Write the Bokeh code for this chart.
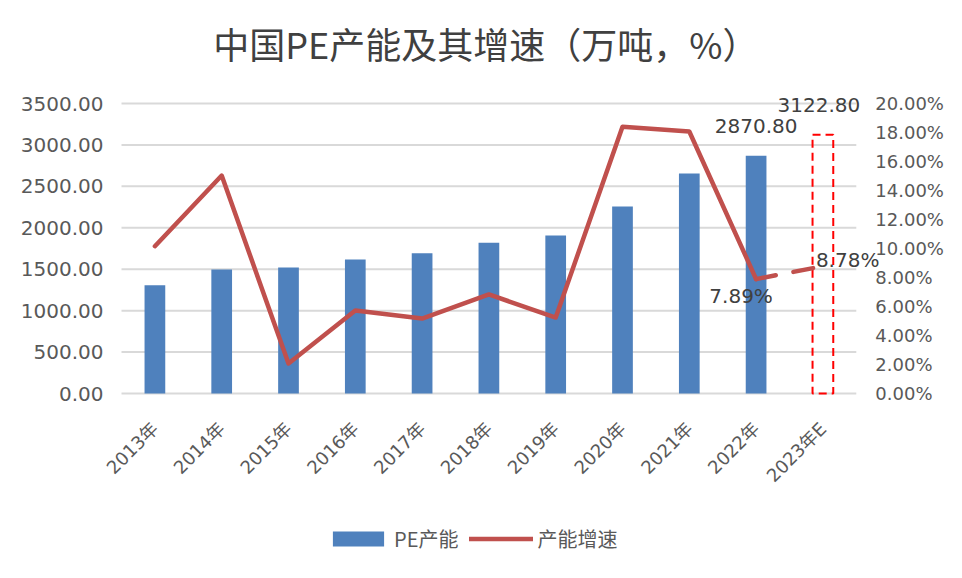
from bokeh.plotting import figure
from bokeh.models import (Range1d, LinearAxis, FixedTicker, PrintfTickFormatter,
                          Label, Legend, LegendItem)
from bokeh.embed import file_html
from bokeh.resources import INLINE
import math

years = ["2013年", "2014年", "2015年", "2016年", "2017年", "2018年", "2019年",
         "2020年", "2021年", "2022年", "2023年E"]
capacity = [1305, 1497, 1521, 1617, 1692, 1820, 1907, 2257, 2655, 2870.8, 3122.8]
growth = [10.16, 15.03, 2.07, 5.72, 5.17, 6.83, 5.24, 18.40, 18.07, 7.89, 8.78]
left_ticks = [0, 500, 1000, 1500, 2000, 2500, 3000, 3500]
right_ticks = [0, 2, 4, 6, 8, 10, 12, 14, 16, 18, 20]

# ---- layout (pixels) ----
W, H = 946, 562
PX_LEFT, PX_TOP, PX_BOTTOM = 121, 103, 393     # plot-area edges in the figure
PX_CAT = 66.8                                   # width of one category
CAP_MAX, PCT_MAX = 3500, 20
ppu = (PX_BOTTOM - PX_TOP) / CAP_MAX
ppp = (PX_BOTTOM - PX_TOP) / PCT_MAX

n = len(years)
xc = [i + 0.5 for i in range(n)]               # category centres (synthetic coords)

TXT = "#595959"
NUM_FONT = "DejaVu Sans, Noto Sans CJK SC"
CJK_FONT = "Noto Sans CJK SC"

p = figure(width=W, height=H, output_backend="svg", toolbar_location=None,
           x_range=Range1d(-PX_LEFT / PX_CAT, (W - PX_LEFT) / PX_CAT),
           y_range=Range1d(-(H - PX_BOTTOM) / ppu, PX_BOTTOM / ppu),
           min_border=0, x_axis_type=None, y_axis_type=None)
p.extra_y_ranges = {"pct": Range1d(-(H - PX_BOTTOM) / ppp, PX_BOTTOM / ppp)}
p.outline_line_color = None
p.background_fill_color = "white"
p.border_fill_color = "white"
p.grid.visible = False

# horizontal gridlines spanning the category area only
p.segment(x0=0, x1=n, y0=left_ticks, y1=left_ticks, line_color="#d9d9d9", line_width=2)

bars = p.vbar(x=xc[:10], top=capacity[:10], width=0.31, fill_color="#4f81bd", line_color=None)
p.vbar(x=xc[10:], top=capacity[10:], width=0.31, fill_alpha=0, line_color="#ff0000",
       line_width=2, line_dash="8 5")

ln = p.line(xc[:10], growth[:10], y_range_name="pct", line_color="#c0504d", line_width=4.5,
            line_join="round", line_cap="round")
p.line(xc[9:], growth[9:], y_range_name="pct", line_color="#c0504d", line_width=4.5,
       line_cap="round", line_dash="20 18")

la = LinearAxis(ticker=FixedTicker(ticks=left_ticks), formatter=PrintfTickFormatter(format="%.2f"),
                fixed_location=0)
ra = LinearAxis(y_range_name="pct", ticker=FixedTicker(ticks=right_ticks),
                formatter=PrintfTickFormatter(format="%.2f%%"), fixed_location=n)
xa = LinearAxis(ticker=FixedTicker(ticks=xc), fixed_location=0,
                major_label_overrides={c: y for c, y in zip(xc, years)})
p.add_layout(la, "left")
p.add_layout(ra, "right")
p.add_layout(xa, "below")
for ax in [la, ra, xa]:
    ax.axis_line_color = None
    ax.major_tick_line_color = None
    ax.minor_tick_line_color = None
    ax.major_label_text_font = NUM_FONT
    ax.major_label_text_color = TXT
la.major_label_text_font_size = "20px"
ra.major_label_text_font_size = "18px"
la.major_label_standoff = 12
ra.major_label_standoff = 13
xa.major_label_orientation = math.pi / 4
xa.major_label_text_font_size = "18px"
xa.major_label_standoff = 26

def lab(x, y, text, xo=0, yo=0, align="center", rng="default"):
    p.add_layout(Label(x=x, y=y, text=text, x_offset=xo, y_offset=yo, text_align=align,
                       text_baseline="middle", text_font=NUM_FONT, text_font_size="20px",
                       text_color="#404040", y_range_name=rng))

lab(xc[9], capacity[9], f"{capacity[9]:.2f}", 0, 30)
lab(xc[10], capacity[10], f"{capacity[10]:.2f}", -4, 30)
lab(xc[9], growth[9], f"{growth[9]:.2f}%", -15, -17, rng="pct")
lab(xc[10], growth[10], f"{growth[10]:.2f}%", -7, 6, align="left", rng="pct")

p.add_layout(Label(x=n / 2, y=CAP_MAX, x_offset=-3, y_offset=61,
                   text="中国PE产能及其增速（万吨，%）",
                   text_align="center", text_baseline="middle", text_font=CJK_FONT,
                   text_font_size="36px", text_color="#404040"))

legend = Legend(items=[LegendItem(label="PE产能", renderers=[bars]),
                       LegendItem(label="产能增速", renderers=[ln])],
                location=(326, 9), orientation="horizontal", glyph_width=64, glyph_height=19,
                label_standoff=4, spacing=11, padding=0, margin=0, border_line_color=None,
                background_fill_alpha=0, label_text_font=CJK_FONT,
                label_text_font_size="20px", label_text_color=TXT)
p.add_layout(legend)

open("out.html", "w").write(file_html(p, INLINE))
